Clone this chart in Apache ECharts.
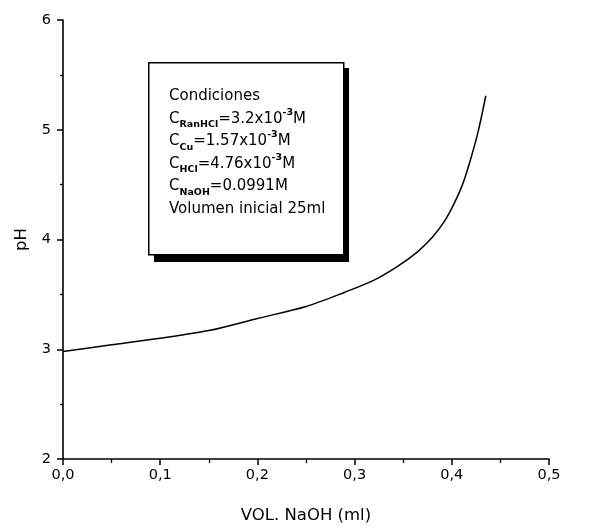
<!DOCTYPE html>
<html>
<head>
<meta charset="utf-8">
<script src="https://cdn.jsdelivr.net/npm/echarts@6/dist/echarts.min.js"></script>
<style>html,body{margin:0;padding:0;background:#fff}#c{width:594px;height:531px}</style>
</head>
<body>
<div id="c"></div>
<script>
const volNaOH = [0.000, 0.050, 0.100, 0.150, 0.200, 0.250, 0.290, 0.320, 0.345, 0.365, 0.380, 0.392, 0.402, 0.411, 0.419, 0.427, 0.435];
const pHValues = [2.98, 3.04, 3.10, 3.17, 3.28, 3.39, 3.52, 3.63, 3.76, 3.89, 4.02, 4.16, 4.32, 4.50, 4.72, 4.98, 5.31];
const xTickLabels = ['0,0', '0,1', '0,2', '0,3', '0,4', '0,5'];
const yTickLabels = ['2', '3', '4', '5', '6'];
const conditionLines = [
  '{m|Condiciones}',
  '{m|C}{sub|RanHCl}{m|=3.2x10}{sup|-3}{m|M}',
  '{m|C}{sub|Cu}{m|=1.57x10}{sup|-3}{m|M}',
  '{m|C}{sub|HCl}{m|=4.76x10}{sup|-3}{m|M}',
  '{m|C}{sub|NaOH}{m|=0.0991M}',
  '{m|Volumen inicial 25ml}'
];

const FONT = 'DejaVu Sans';
const chart = echarts.init(document.getElementById('c'), null, {renderer: 'canvas'});
const data = volNaOH.map((v, i) => [v, pHValues[i]]);

chart.setOption({
  animation: false,
  backgroundColor: '#fff',
  grid: {left: 63, right: 45, top: 20, bottom: 72},
  xAxis: {
    type: 'value', min: 0, max: 0.5, interval: 0.1,
    name: 'VOL. NaOH (ml)', nameLocation: 'middle', nameGap: 48,
    nameTextStyle: {fontFamily: FONT, fontSize: 16.5, color: '#000'},
    axisLine: {show: true, lineStyle: {color: '#000', width: 1.6}},
    axisTick: {show: true, length: 6, lineStyle: {color: '#000', width: 1.5}},
    minorTick: {show: true, splitNumber: 2, length: 4, lineStyle: {color: '#000', width: 1.3}},
    splitLine: {show: false},
    axisLabel: {margin: 9, fontFamily: FONT, fontSize: 14.5, color: '#000',
      formatter: v => xTickLabels[Math.round(v * 10)]}
  },
  yAxis: {
    type: 'value', min: 2, max: 6, interval: 1,
    name: 'pH', nameLocation: 'middle', nameGap: 33, nameRotate: 90,
    nameTextStyle: {fontFamily: FONT, fontSize: 16.5, color: '#000'},
    axisLine: {show: true, lineStyle: {color: '#000', width: 1.6}},
    axisTick: {show: true, length: 6, lineStyle: {color: '#000', width: 1.5}},
    minorTick: {show: true, splitNumber: 2, length: 3, lineStyle: {color: '#000', width: 1.3}},
    splitLine: {show: false},
    axisLabel: {margin: 12, fontFamily: FONT, fontSize: 14.5, color: '#000',
      formatter: v => yTickLabels[Math.round(v - 2)]}
  },
  series: [{
    type: 'line', data: data, smooth: 0.3, showSymbol: false,
    lineStyle: {color: '#000', width: 1.5}
  }],
  graphic: [
    {type: 'rect', left: 154, top: 68, shape: {width: 195, height: 194}, style: {fill: '#000'}, z: 10},
    {type: 'rect', left: 148, top: 62, shape: {width: 195, height: 192},
      style: {fill: '#fff', stroke: '#000', lineWidth: 1.5}, z: 11},
    {type: 'text', left: 169, top: 85, z: 12,
      style: {
        text: conditionLines.join('\n'),
        fill: '#000',
        font: '15px ' + FONT,
        lineHeight: 22.5,
        rich: {
          m: {fontFamily: FONT, fontSize: 15, lineHeight: 22.5, fill: '#000'},
          sub: {fontFamily: FONT, fontSize: 9.5, fontWeight: 'bold', lineHeight: 8, verticalAlign: 'bottom', fill: '#000'},
          sup: {fontFamily: FONT, fontSize: 9.5, fontWeight: 'bold', lineHeight: 15, verticalAlign: 'top', fill: '#000'}
        }
      }}
  ]
});
</script>
</body>
</html>
